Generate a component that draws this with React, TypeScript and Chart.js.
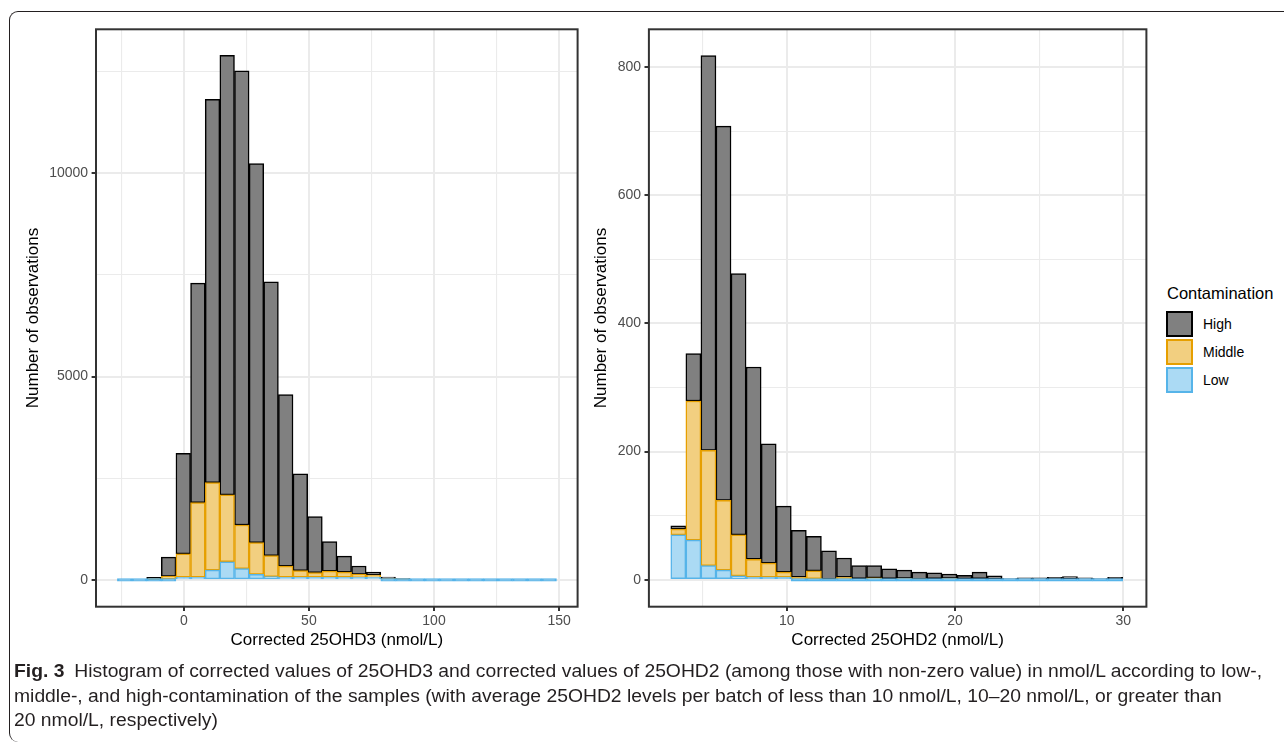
import React, { useEffect, useLayoutEffect, useRef, useState } from 'react';
import { Chart, registerables } from 'chart.js';

Chart.register(...registerables);

const FONT = "'Liberation Sans', Arial, Helvetica, sans-serif";

// ---------------- data ----------------
const groupNames = ['High', 'Middle', 'Low'];
const legendTitle = 'Contamination';
const yAxisTitle = 'Number of observations';

// Left panel: corrected 25OHD3 (30 bins)
const d3Title = 'Corrected 25OHD3 (nmol/L)';
const d3BinStart = -26.55;
const d3BinWidth = 5.85;
const d3Low = [0, 0, 0, 0, 5, 15, 240, 445, 275, 135, 80, 50, 32, 20, 10, 5, 3, 2, 0, 0, 0, 0, 0, 0, 0, 0, 0, 0, 0, 0];
const d3Middle = [0, 0, 5, 85, 575, 1835, 2150, 1645, 1075, 780, 515, 275, 165, 115, 150, 127, 71, 55, 30, 10, 0, 0, 0, 0, 0, 0, 0, 0, 0, 0];
const d3High = [0, 0, 60, 475, 2470, 5400, 9430, 10810, 11170, 9325, 6735, 4215, 2378, 1375, 728, 394, 206, 75, 36, 23, 0, 0, 0, 0, 0, 0, 0, 0, 0, 0];
const d3XGrid = [-25, 0, 25, 50, 75, 100, 125, 150];
const d3XLabels = [0, 50, 100, 150];
const d3YGrid = [0, 2500, 5000, 7500, 10000, 12500];
const d3YLabels = [0, 5000, 10000];

// Right panel: corrected 25OHD2 (30 bins)
const d2Title = 'Corrected 25OHD2 (nmol/L)';
const d2BinStart = 3.11;
const d2BinWidth = 0.895;
const d2Low = [70, 62, 22, 15, 6, 2, 1, 1, 0, 0, 0, 0, 0, 0, 0, 0, 0, 0, 0, 0, 0, 0, 0, 0, 0, 0, 0, 0, 0, 0];
const d2Middle = [9, 217, 180, 109, 64, 28, 22, 8, 4, 14, 1, 4, 0, 3, 0, 2, 1, 0, 2, 0, 0, 0, 0, 0, 0, 0, 0, 0, 0, 0];
const d2High = [5, 74, 616, 584, 408, 300, 186, 103, 73, 54, 44, 30, 22, 19, 17, 13, 11, 11, 7, 7, 12, 6, 2, 3, 3, 4, 5, 3, 2, 4];
const d2XGrid = [5, 10, 15, 20, 25, 30];
const d2XLabels = [10, 20, 30];
const d2YGrid = [0, 100, 200, 300, 400, 500, 600, 700, 800];
const d2YLabels = [0, 200, 400, 600, 800];

// styles per group
const fills: Record<string, string> = { High: '#808080', Middle: '#F2CF80', Low: '#ABDAF4' };
const strokes: Record<string, string> = { High: '#000000', Middle: '#E69F00', Low: '#56B4E9' };

const captionLines = [
  'Histogram of corrected values of 25OHD3 and corrected values of 25OHD2 (among those with non-zero value) in nmol/L according to low-,',
  'middle-, and high-contamination of the samples (with average 25OHD2 levels per batch of less than 10 nmol/L, 10–20 nmol/L, or greater than',
  '20 nmol/L, respectively)',
];

type PanelProps = {
  left: number; width: number; height: number;
  plotLeft: number; plotRight: number; plotTop: number; plotBottom: number; yTitleX: number;
  binStart: number; binWidth: number; low: number[]; middle: number[]; high: number[];
  xMin: number; xMax: number; yMin: number; yMax: number;
  xGrid: number[]; xLabels: number[]; yGrid: number[]; yLabels: number[]; xTitle: string;
};

const panelBorder = {
  id: 'panelBorder',
  afterDatasetsDraw(chart: any) {
    const { ctx, chartArea: a } = chart;
    ctx.save();
    ctx.strokeStyle = '#333333';
    ctx.lineWidth = 2;
    ctx.strokeRect(a.left, a.top, a.right - a.left, a.bottom - a.top);
    ctx.restore();
  },
};

function HistPanel(p: PanelProps) {
  const ref = useRef<HTMLCanvasElement>(null);
  useEffect(() => {
    if (!ref.current) return;
    const centers = p.low.map((_, i) => p.binStart + (i + 0.5) * p.binWidth);
    const mk = (vals: number[]) => vals.map((v, i) => ({ x: centers[i], y: v }));
    const tickFont = { family: FONT, size: 14 };
    const titleFont = { family: FONT, size: 17 };
    const gridOpts = (labels: number[]) => ({
      color: '#EBEBEB',
      lineWidth: (c: any) => (labels.includes(c.tick && c.tick.value) ? 2 : 1.1),
      tickColor: (c: any) => (labels.includes(c.tick && c.tick.value) ? '#333333' : 'rgba(0,0,0,0)'),
      tickWidth: 2,
      tickLength: 4.4,
      drawTicks: true,
      offset: false,
    });
    const ds = (name: string, vals: number[], extra: any = {}) => ({
      label: name,
      data: mk(vals),
      backgroundColor: fills[name],
      borderColor: strokes[name],
      borderWidth: 1.5,
      borderSkipped: false,
      barPercentage: 1,
      categoryPercentage: 1,
      ...extra,
    });
    const chart = new Chart(ref.current, {
      type: 'bar',
      data: {
        datasets: [
          ds('Low', p.low, {
            minBarLength: 2.6,
            // zero-count bins collapse to a flat outline, as in ggplot
            backgroundColor: (c: any) => (c.raw && c.raw.y === 0 ? strokes.Low : fills.Low),
          }),
          ds('Middle', p.middle),
          ds('High', p.high),
        ],
      },
      options: {
        animation: false,
        responsive: false,
        devicePixelRatio: 1,
        layout: { padding: { left: 0, top: p.plotTop, right: p.width - p.plotRight, bottom: 0 } },
        plugins: { legend: { display: false }, tooltip: { enabled: false } },
        scales: {
          x: {
            type: 'linear', min: p.xMin, max: p.xMax, stacked: true, offset: false,
            afterBuildTicks: (s: any) => { s.ticks = p.xGrid.map((v) => ({ value: v })); },
            afterFit: (s: any) => { s.height = p.height - p.plotBottom; },
            ticks: {
              autoSkip: false, maxRotation: 0, minRotation: 0, padding: 2, font: tickFont, color: '#4D4D4D',
              callback: (v: any) => (p.xLabels.includes(v) ? String(v) : ''),
            },
            grid: gridOpts(p.xLabels) as any,
            border: { display: false },
            title: { display: true, text: p.xTitle, font: titleFont, color: '#000000', padding: { top: 0, bottom: 9.8 } },
          },
          y: {
            type: 'linear', min: p.yMin, max: p.yMax, stacked: true,
            afterBuildTicks: (s: any) => { s.ticks = p.yGrid.map((v) => ({ value: v })); },
            afterFit: (s: any) => { s.width = p.plotLeft; },
            ticks: {
              autoSkip: false, padding: 3.5, font: tickFont, color: '#4D4D4D',
              callback: (v: any) => (p.yLabels.includes(v) ? String(v) : ''),
            },
            grid: gridOpts(p.yLabels) as any,
            border: { display: false },
            title: { display: true, text: yAxisTitle, font: titleFont, color: '#000000', padding: { top: p.yTitleX - 10.2, bottom: 0 } },
          },
        },
      } as any,
      plugins: [panelBorder],
    });
    return () => chart.destroy();
  }, []);
  return (
    <canvas
      ref={ref}
      width={p.width}
      height={p.height}
      style={{ position: 'absolute', left: p.left, top: 0, width: p.width, height: p.height }}
    />
  );
}

function Caption() {
  const ref = useRef<HTMLSpanElement>(null);
  const [k, setK] = useState(1);
  useLayoutEffect(() => {
    if (ref.current) {
      const w = ref.current.getBoundingClientRect().width;
      if (w > 0) setK((1262 - 14) / w);
    }
  }, []);
  const lineStyle: React.CSSProperties = { whiteSpace: 'nowrap', height: 24.5, lineHeight: '24.5px' };
  return (
    <div
      style={{
        position: 'absolute', left: 14, top: 659, fontFamily: FONT, fontSize: 17.5, color: '#231F20',
        transform: `scaleX(${k})`, transformOrigin: 'left top',
      }}
    >
      <div style={lineStyle}>
        <span ref={ref} style={{ display: 'inline-block' }}>
          <b style={{ marginRight: 9 }}>Fig. 3</b>
          {captionLines[0]}
        </span>
      </div>
      <div style={lineStyle}>{captionLines[1]}</div>
      <div style={lineStyle}>{captionLines[2]}</div>
    </div>
  );
}

function Legend() {
  return (
    <>
      <div style={{ position: 'absolute', left: 1167, top: 283, fontFamily: FONT, fontSize: 16.5, lineHeight: '20px', color: '#000', whiteSpace: 'nowrap' }}>
        {legendTitle}
      </div>
      {groupNames.map((g, i) => (
        <React.Fragment key={g}>
          <div
            style={{
              position: 'absolute', left: 1166, top: 310.5 + 28 * i, width: 27, height: 26, boxSizing: 'border-box',
              border: `2px solid ${strokes[g]}`, background: fills[g],
            }}
          />
          <div style={{ position: 'absolute', left: 1203, top: 314.5 + 28 * i, fontFamily: FONT, fontSize: 14, lineHeight: '18px', color: '#000' }}>
            {g}
          </div>
        </React.Fragment>
      ))}
    </>
  );
}

export default function App() {
  return (
    <div style={{ position: 'absolute', left: 0, top: 0, width: 1284, height: 742, overflow: 'hidden', background: '#ffffff' }}>
      <div
        style={{
          position: 'absolute', left: 9, top: 11, width: 1300, height: 731, boxSizing: 'border-box',
          borderTop: '1.5px solid #231F20', borderLeft: '1.5px solid #231F20',
          borderTopLeftRadius: 9, borderBottomLeftRadius: 9,
        }}
      />
      <HistPanel
        left={0} width={590} height={660}
        plotLeft={96} plotRight={577.6} plotTop={29.3} plotBottom={606.7} yTitleX={33.7}
        binStart={d3BinStart} binWidth={d3BinWidth} low={d3Low} middle={d3Middle} high={d3High}
        xMin={-35.1} xMax={157.4} yMin={-660} yMax={13540}
        xGrid={d3XGrid} xLabels={d3XLabels} yGrid={d3YGrid} yLabels={d3YLabels} xTitle={d3Title}
      />
      <HistPanel
        left={575} width={585} height={660}
        plotLeft={73.9} plotRight={571.4} plotTop={29.3} plotBottom={606.7} yTitleX={26}
        binStart={d2BinStart} binWidth={d2BinWidth} low={d2Low} middle={d2Middle} high={d2High}
        xMin={1.81} xMax={31.37} yMin={-42} yMax={859}
        xGrid={d2XGrid} xLabels={d2XLabels} yGrid={d2YGrid} yLabels={d2YLabels} xTitle={d2Title}
      />
      <Legend />
      <Caption />
    </div>
  );
}
